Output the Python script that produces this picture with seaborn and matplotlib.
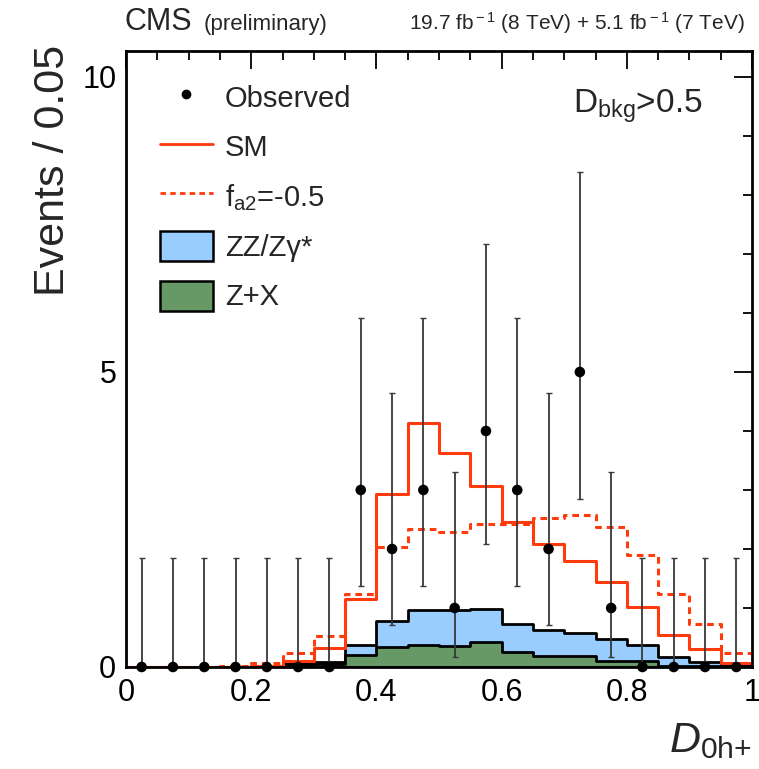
import numpy as np
import pandas as pd
import matplotlib
matplotlib.use("Agg")
import matplotlib.pyplot as plt
import seaborn as sns
from matplotlib.lines import Line2D
from matplotlib.patches import Patch
from matplotlib.ticker import MultipleLocator, FuncFormatter

# ---------------- data ----------------
bin_edges = [0.00, 0.05, 0.10, 0.15, 0.20, 0.25, 0.30, 0.35, 0.40, 0.45, 0.50,
             0.55, 0.60, 0.65, 0.70, 0.75, 0.80, 0.85, 0.90, 0.95, 1.00]
bin_centers = [0.025, 0.075, 0.125, 0.175, 0.225, 0.275, 0.325, 0.375, 0.425, 0.475,
               0.525, 0.575, 0.625, 0.675, 0.725, 0.775, 0.825, 0.875, 0.925, 0.975]

obs_counts = [0, 0, 0, 0, 0, 0, 0, 3, 2, 3, 1, 4, 3, 2, 5, 1, 0, 0, 0, 0]
obs_low    = [0, 0, 0, 0, 0, 0, 0, 1.367, 0.708, 1.367, 0.173, 2.086, 1.367, 0.708,
              2.840, 0.173, 0, 0, 0, 0]
obs_high   = [1.841, 1.841, 1.841, 1.841, 1.841, 1.841, 1.841, 5.918, 4.638, 5.918,
              3.300, 7.163, 5.918, 4.638, 8.382, 3.300, 1.841, 1.841, 1.841, 1.841]

sm_total  = [0, 0, 0, 0, 0.02, 0.10, 0.33, 1.16, 2.93, 4.13,
             3.62, 3.07, 2.46, 2.08, 1.80, 1.44, 1.02, 0.55, 0.30, 0.07]
fa2_total = [0, 0, 0, 0.01, 0.06, 0.24, 0.53, 1.23, 2.03, 2.34,
             2.28, 2.42, 2.43, 2.53, 2.57, 2.37, 1.89, 1.23, 0.73, 0.23]
zz_bkg    = [0, 0, 0, 0, 0.005, 0.03, 0.03, 0.17, 0.44, 0.59,
             0.61, 0.57, 0.47, 0.43, 0.38, 0.36, 0.27, 0.15, 0.07, 0.02]
zx_bkg    = [0, 0, 0, 0, 0.005, 0.03, 0.05, 0.20, 0.34, 0.37,
             0.36, 0.42, 0.26, 0.19, 0.19, 0.11, 0.11, 0.02, 0.01, 0.01]

x_ticks_major = 0.2
x_ticks_minor = 0.05
y_ticks_major = 5
y_ticks_minor = 1

# ---------------- style ----------------
sns.set_style("white")
plt.rcParams["font.family"] = ["Liberation Sans", "DejaVu Sans"]
plt.rcParams["mathtext.fontset"] = "custom"
plt.rcParams["mathtext.rm"] = "Liberation Sans"
plt.rcParams["mathtext.it"] = "Liberation Sans:italic"
plt.rcParams["mathtext.bf"] = "Liberation Sans:bold"

RED = "#ff3a0c"
BLUE = "#99ccff"
GREEN = "#669966"

fig = plt.figure(figsize=(7.59, 7.69), dpi=100)
ax = fig.add_axes([126 / 759, 1 - 667 / 769, 626 / 759, 616 / 769])

df = pd.DataFrame({
    "x": bin_centers,
    "total_bkg": np.array(zz_bkg) + np.array(zx_bkg),
    "zx": zx_bkg,
    "sm": sm_total,
    "fa2": fa2_total,
})

# stacked backgrounds (total drawn first, Z+X on top of it)
sns.histplot(data=df, x="x", weights="total_bkg", bins=bin_edges, element="step",
             fill=True, color=BLUE, alpha=1, edgecolor="black", linewidth=2, ax=ax)
sns.histplot(data=df, x="x", weights="zx", bins=bin_edges, element="step",
             fill=True, color=GREEN, alpha=1, edgecolor="black", linewidth=2, ax=ax)

# signal hypotheses
sns.histplot(data=df, x="x", weights="sm", bins=bin_edges, element="step",
             fill=False, color=RED, linewidth=2.2, ax=ax)
sns.histplot(data=df, x="x", weights="fa2", bins=bin_edges, element="step",
             fill=False, color=RED, linewidth=2.2, linestyle=(0, (2.2, 1.6)), ax=ax)

# observed data
obs = np.array(obs_counts, dtype=float)
yerr = [obs - np.array(obs_low), np.array(obs_high) - obs]
ax.errorbar(bin_centers, obs, yerr=yerr, fmt="none", ecolor="#383838",
            elinewidth=1.3, capsize=2.4, capthick=1.0, zorder=4, clip_on=False)
sns.scatterplot(x=bin_centers, y=obs_counts, color="black", s=58, edgecolor="none",
                zorder=5, clip_on=False, ax=ax)

# ---------------- axes ----------------
ax.set_xlim(0, 1)
ax.set_ylim(0, 10.44)
ax.xaxis.set_major_locator(MultipleLocator(x_ticks_major))
ax.xaxis.set_minor_locator(MultipleLocator(x_ticks_minor))
ax.yaxis.set_major_locator(MultipleLocator(y_ticks_major))
ax.yaxis.set_minor_locator(MultipleLocator(y_ticks_minor))
ax.xaxis.set_major_formatter(FuncFormatter(lambda v, p: f"{v:g}"))
ax.yaxis.set_major_formatter(FuncFormatter(lambda v, p: f"{v:g}"))
ax.tick_params(which="both", direction="in", top=True, right=True, width=1.3,
               labelsize=22, colors="black")
ax.tick_params(which="major", length=13)
ax.tick_params(which="minor", length=6.5)
ax.tick_params(axis="x", which="major", pad=8)
ax.tick_params(axis="y", which="major", pad=7)
for s in ax.spines.values():
    s.set_linewidth(2)
    s.set_color("black")
ax.grid(False)

ax.set_xlabel("")
ax.set_ylabel("Events / 0.05", fontsize=31, loc="top")
ax.yaxis.set_label_coords(-0.085, 1.01)

# legend
handles = [
    Line2D([], [], color="black", marker="o", linestyle="none", markersize=6),
    Line2D([], [], color=RED, linewidth=2),
    Line2D([], [], color=RED, linewidth=2, linestyle=(0, (2, 1.5))),
    Patch(facecolor=BLUE, edgecolor="black", linewidth=1.8),
    Patch(facecolor=GREEN, edgecolor="black", linewidth=1.8),
]
labels = ["Observed", "SM", r"f$_{\rm a2}$=-0.5", "ZZ/Zγ*", "Z+X"]
fig.legend(handles, labels, loc="upper left", bbox_to_anchor=(160 / 759, 1 - 82 / 769),
           frameon=False, fontsize=21, handlelength=1.8, handleheight=1.2,
           handletextpad=0.42, labelspacing=0.64, borderpad=0, borderaxespad=0)

# annotations
ax.text(0.714, 0.90, r"D$_{\rm bkg}$>0.5", transform=ax.transAxes, fontsize=24,
        ha="left", va="baseline")
fig.text(125 / 759, 1 - 30 / 769, "CMS", fontsize=22, ha="left", va="baseline")
fig.text(204 / 759, 1 - 30 / 769, "(preliminary)", fontsize=16, ha="left", va="baseline")
fig.text(745 / 759, 1 - 30 / 769,
         r"19.7 fb$^{\rm -1}$ (8 TeV) + 5.1 fb$^{\rm -1}$ (7 TeV)",
         fontsize=15, ha="right", va="baseline")
fig.text(752 / 759, 1 - 752 / 769, r"$D_{\rm 0h{+}}$", fontsize=31, ha="right", va="baseline")

fig.savefig("out.png", dpi=100)
